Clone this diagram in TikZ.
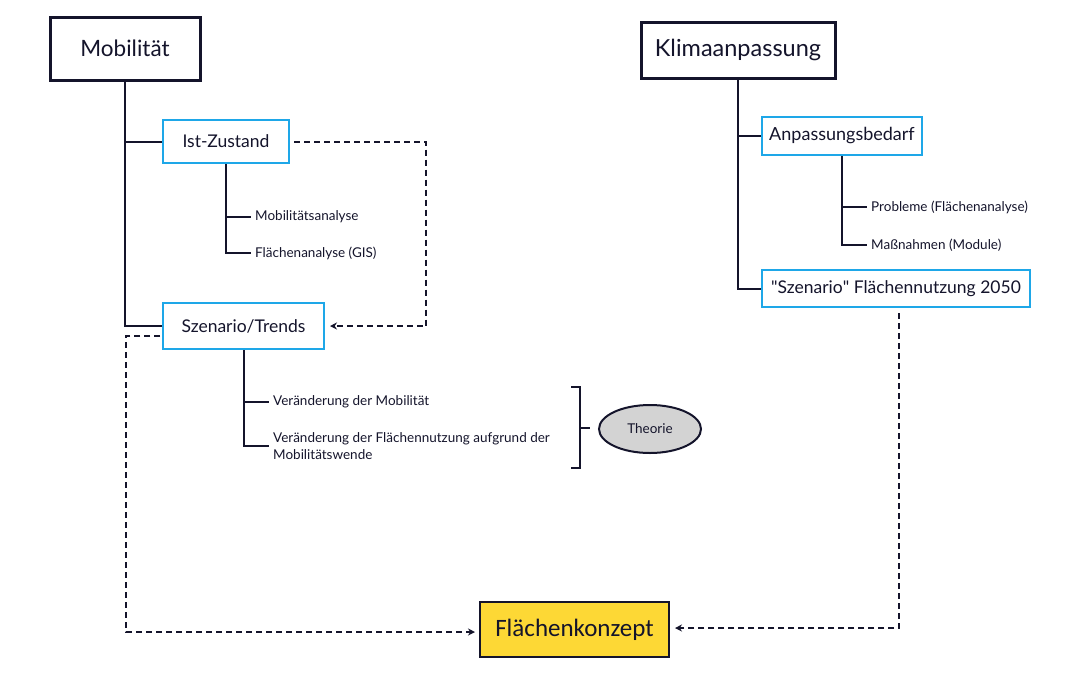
\documentclass[tikz,border=0pt]{standalone}
\usepackage{fontspec}
\setmainfont{Lato}
\newfontfamily\calfont{Carlito}
\usetikzlibrary{arrows.meta,shapes.geometric}
\definecolor{navy}{HTML}{14142B}
\definecolor{cyanb}{HTML}{1EA7E8}
\definecolor{yel}{HTML}{FDD835}
\definecolor{gry}{HTML}{D3D3D3}
\tikzset{
  x=1pt,y=-1pt,
  mainbox/.style={draw=navy,line width=3pt,fill=white,inner sep=0pt,text=navy},
  subbox/.style={draw=cyanb,line width=2pt,fill=white,inner sep=0pt,text=navy,font=\fontsize{17.5}{20}\selectfont},
  leaf/.style={anchor=west,inner xsep=4pt,inner ysep=0pt,text=navy,font=\fontsize{13.5}{17}\selectfont,align=left},
  tree/.style={draw=navy,line width=2pt},
  dline/.style={draw=navy,line width=2pt,dash pattern=on 6pt off 4pt},
  tip/.style={-{Stealth[length=7pt,width=7pt]}}
}
\begin{document}
\begin{tikzpicture}
\useasboundingbox (0,0) rectangle (1087,673);
% main boxes
\node[mainbox,minimum width=150,minimum height=63,font=\fontsize{22.5}{26}\selectfont] (mob) at (125,48.5) {Mobilität};
\node[mainbox,minimum width=194,minimum height=56,font=\fontsize{23.5}{26}\selectfont] (kl) at (738,50) {Klimaanpassung};
% sub boxes
\node[subbox,minimum width=126,minimum height=43] (ist) at (226,141.5) {Ist-Zustand};
\node[subbox,minimum width=161,minimum height=46] (sz) at (243.5,326) {Szenario/Trends};
\node[subbox,minimum width=160,minimum height=38,font=\fontsize{18}{20}\selectfont] (ab) at (842,136) {Anpassungsbedarf};
\node[subbox,minimum width=268,minimum height=37] (s50) at (896,288.5) {\textquotedbl Szenario\textquotedbl{} Flächennutzung 2050};
% final
\node[draw=navy,line width=2pt,fill=yel,inner sep=0pt,minimum width=189,minimum height=55,text=navy,font=\calfont\fontsize{25}{28}\selectfont] (fk) at (574.5,629.5) {Flächenkonzept};
% leaves
\node[leaf] (ma) at (251,217) {Mobilitätsanalyse};
\node[leaf] (fa) at (251,253) {Flächenanalyse (GIS)};
\node[leaf] (vm) at (269,402) {Veränderung der Mobilität};
\node[leaf] (vf) at (269,446) {Veränderung der Flächennutzung aufgrund der\\Mobilitätswende};
\node[leaf] (pr) at (867,207) {Probleme (Flächenanalyse)};
\node[leaf] (mn) at (867,245) {Maßnahmen (Module)};
% Theorie
\node[ellipse,draw=navy,line width=2pt,fill=gry,minimum width=102,minimum height=48,inner sep=0pt,text=navy,font=\fontsize{13.5}{15}\selectfont] (th) at (650,429) {Theorie};
% tree lines
\draw[tree] (mob.south) |- (sz.west);
\draw[tree] (mob.south |- ist.west) -- (ist.west);
\draw[tree] (ist.south) |- (fa.west);
\draw[tree] (ist.south |- ma.west) -- (ma.west);
\draw[tree] (sz.south) |- (vf.west);
\draw[tree] (sz.south |- vm.west) -- (vm.west);
\draw[tree] (kl.south) |- (s50.west);
\draw[tree] (kl.south |- ab.west) -- (ab.west);
\draw[tree] (ab.south) |- (mn.west);
\draw[tree] (ab.south |- pr.west) -- (pr.west);
% bracket
\coordinate (bt) at (571,387);
\coordinate (bb) at (571,468);
\coordinate (bm) at (580,428);
\coordinate (bx) at (590,428);
\draw[tree] (bt) -- (bm |- bt) -- (bm |- bb) -- (bb);
\draw[tree] (bm) -- (bx);
% dashed connectors
\coordinate (r1) at (426,141);
\draw[dline,tip] ([xshift=4pt]ist.east) -| (r1 |- sz.east) -- ([xshift=5pt]sz.east);
\coordinate (l0) at (160,336);
\coordinate (l1) at (126,632);
\draw[dline,tip] (l0) -| (l1) -- ([xshift=-4pt]fk.west |- l1);
\coordinate (r2) at (899,313);
\coordinate (r3) at (899,628);
\draw[dline,tip] (r2) -- (r3) -- ([xshift=5pt]fk.east |- r3);
\end{tikzpicture}
\end{document}
